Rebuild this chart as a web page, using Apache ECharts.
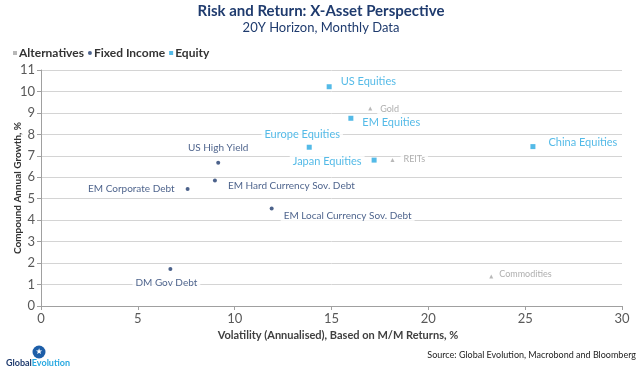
<!DOCTYPE html>
<html><head><meta charset="utf-8">
<script src="https://cdn.jsdelivr.net/npm/echarts@6/dist/echarts.min.js"></script>
<style>html,body{margin:0;padding:0;background:#fff}#c{width:642px;height:370px}</style>
</head><body><div id="c"></div>
<script>
// ---- data ----
const altNames = ['Gold', 'REITs', 'Commodities'];
const altVol = [17.0, 18.15, 23.25];
const altRet = [9.2, 6.8, 1.37];

const fiNames = ['US High Yield', 'EM Hard Currency Sov. Debt', 'EM Corporate Debt', 'EM Local Currency Sov. Debt', 'DM Gov Debt'];
const fiVol = [9.15, 8.98, 7.57, 11.91, 6.68];
const fiRet = [6.68, 5.85, 5.45, 4.55, 1.72];

const eqNames = ['US Equities', 'EM Equities', 'Europe Equities', 'China Equities', 'Japan Equities'];
const eqVol = [14.88, 16.0, 13.85, 25.4, 17.2];
const eqRet = [10.22, 8.75, 7.4, 7.43, 6.8];

const xTicks = [0, 5, 10, 15, 20, 25, 30];
const yTicks = [0, 1, 2, 3, 4, 5, 6, 7, 8, 9, 10, 11];

// ---- label placement (style, not data) ----
const labelCfg = {
  'US Equities': {position: 'right', distance: 6, offset: [0, -5]},
  'EM Equities': {position: 'right', distance: 6, offset: [0, 4]},
  'Europe Equities': {position: 'top', distance: 3, offset: [-7, 0]},
  'China Equities': {position: 'right', distance: 10, offset: [0, -4]},
  'Japan Equities': {position: 'left', distance: 7, offset: [0, 1]},
  'Gold': {position: 'right', distance: 5, offset: [0, 0]},
  'REITs': {position: 'right', distance: 6, offset: [0, -1]},
  'Commodities': {position: 'right', distance: 3, offset: [0, -3]},
  'US High Yield': {position: 'top', distance: 6, offset: [0, 0]},
  'EM Hard Currency Sov. Debt': {position: 'right', distance: 8, offset: [0, 5]},
  'EM Corporate Debt': {position: 'left', distance: 8, offset: [0, 0]},
  'EM Local Currency Sov. Debt': {position: 'right', distance: 7, offset: [0, 7]},
  'DM Gov Debt': {position: 'bottom', distance: 5, offset: [-4, 0]}
};

const FONT = 'Lato, "Open Sans", sans-serif';
const NAVY = '#1f3b6e';
const CYAN = '#29a9e1';
const GREY = '#a6a6a6';

function build(names, vols, rets, color, fontSize) {
  return names.map((n, i) => {
    const c = labelCfg[n];
    return {
      name: n,
      value: [vols[i], rets[i]],
      label: {
        show: true, formatter: n, position: c.position, distance: c.distance, offset: c.offset,
        color: color, fontSize: fontSize, fontFamily: FONT,
        backgroundColor: '#fff', padding: [2, 3]
      }
    };
  });
}

const chart = echarts.init(document.getElementById('c'), null, {renderer: 'canvas'});
chart.setOption({
  animation: false,
  backgroundColor: '#fff',
  graphic: [
    {type: 'text', left: 'center', top: 4, style: {text: 'Risk and Return: X-Asset Perspective', fill: NAVY, font: 'bold 15px ' + FONT}, x: 6},
    {type: 'text', left: 'center', top: 21, style: {text: '20Y Horizon, Monthly Data', fill: NAVY, font: '13px ' + FONT}, x: 6},
    {type: 'text', right: 6, top: 351, style: {text: 'Source: Global Evolution, Macrobond and Bloomberg', fill: '#222', font: '9px ' + FONT}},
    {type: 'circle', shape: {cx: 39, cy: 352, r: 6.5}, style: {fill: '#1d5ea8'}},
    {type: 'text', x: 39, y: 352, style: {text: '★', fill: '#fff', font: '8px "DejaVu Sans"', align: 'center', verticalAlign: 'middle'}},
    {type: 'text', x: 6, y: 359, style: {text: '{a|Global}{b|Evolution}', rich: {a: {fill: NAVY, font: 'bold 9px ' + FONT}, b: {fill: CYAN, font: 'bold 9px ' + FONT}}}}
  ],
  legend: {
    left: 8, top: 42, itemWidth: 4, itemHeight: 4, itemGap: 4,
    textStyle: {fontFamily: FONT, fontSize: 12, fontWeight: 'bold', color: '#333', padding: [0, 0, 0, -3]},
    data: [
      {name: 'Alternatives', icon: 'rect', itemStyle: {color: GREY}},
      {name: 'Fixed Income', icon: 'circle', itemStyle: {color: NAVY}},
      {name: 'Equity', icon: 'rect', itemStyle: {color: CYAN}}
    ]
  },
  grid: {left: 41, right: 20, top: 70, bottom: 64, containLabel: false, outerBoundsMode: 'none'},
  xAxis: {
    type: 'value', min: xTicks[0], max: xTicks[xTicks.length - 1], interval: 5,
    name: 'Volatility (Annualised), Based on M/M Returns, %', nameLocation: 'middle', nameGap: 22,
    nameTextStyle: {fontFamily: FONT, fontSize: 11, fontWeight: 'bold', color: '#404040', padding: [0, 0, 0, 13]},
    axisLine: {lineStyle: {color: '#a0a0a0'}},
    axisTick: {show: true, length: 4, lineStyle: {color: '#a0a0a0'}},
    axisLabel: {fontFamily: FONT, fontSize: 13, color: '#595959', margin: 6},
    splitLine: {show: false}
  },
  yAxis: {
    type: 'value', min: yTicks[0], max: yTicks[yTicks.length - 1], interval: 1,
    name: 'Compound Annual Growth, %', nameLocation: 'middle', nameGap: 18, nameRotate: 90, nameMoveOverlap: false,
    nameTextStyle: {fontFamily: FONT, fontSize: 10, fontWeight: 'bold', color: '#333'},
    axisLine: {show: true, lineStyle: {color: '#a0a0a0'}},
    axisTick: {show: true, length: 4, lineStyle: {color: '#a0a0a0'}},
    axisLabel: {fontFamily: FONT, fontSize: 13, color: '#595959', margin: 6},
    splitLine: {show: true, lineStyle: {color: '#d4d4d4', width: 1}}
  },
  series: [
    {name: 'Alternatives', type: 'scatter', symbol: 'triangle', symbolSize: 4, itemStyle: {color: GREY},
     data: build(altNames, altVol, altRet, '#9a9a9a', 9)},
    {name: 'Fixed Income', type: 'scatter', symbol: 'circle', symbolSize: 4, itemStyle: {color: NAVY},
     data: build(fiNames, fiVol, fiRet, NAVY, 10)},
    {name: 'Equity', type: 'scatter', symbol: 'rect', symbolSize: 5, itemStyle: {color: CYAN},
     data: build(eqNames, eqVol, eqRet, CYAN, 11)}
  ]
});
</script></body></html>
